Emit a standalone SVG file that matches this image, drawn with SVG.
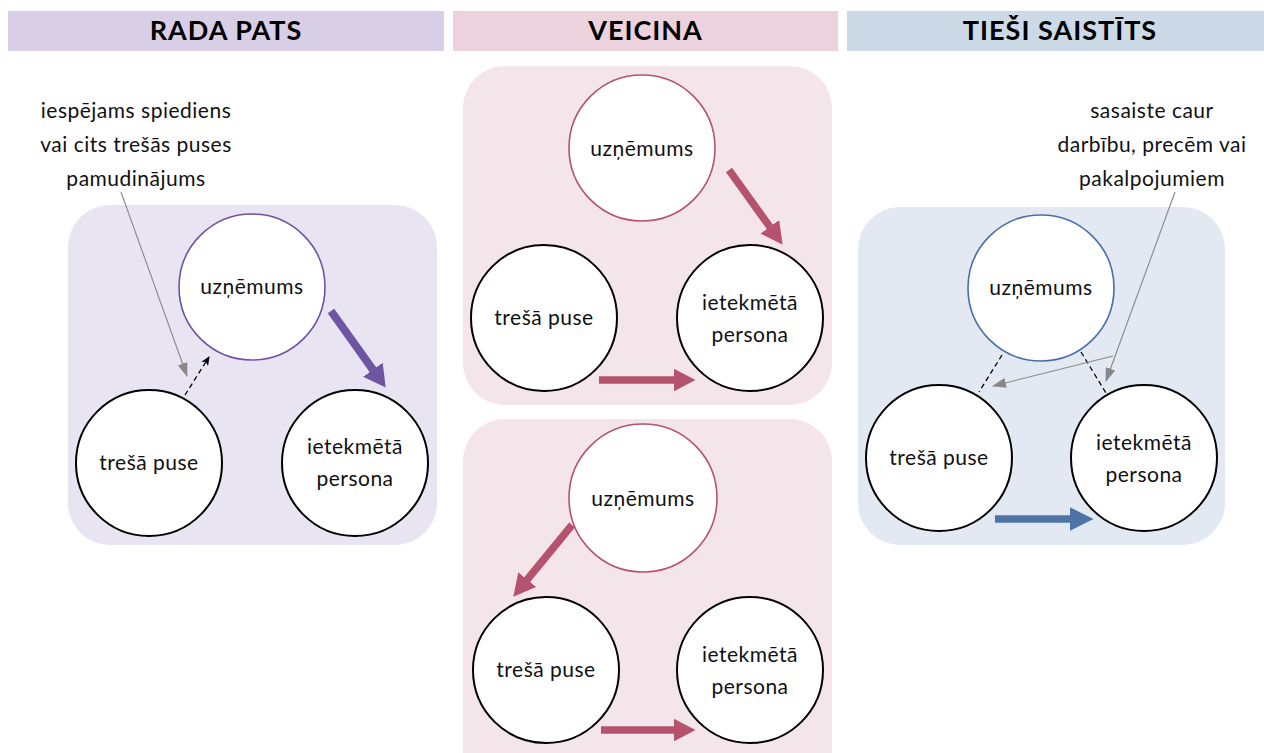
<svg xmlns="http://www.w3.org/2000/svg" width="1264" height="753" viewBox="0 0 1264 753">
  <style>
    .hdr { font-family: Lato, "Liberation Sans", sans-serif; font-weight: bold; font-size: 27px; letter-spacing: 1px; fill: #000; text-anchor: middle; }
    .lbl { font-family: Lato, "Liberation Sans", sans-serif; font-size: 21px; letter-spacing: 0.5px; fill: #111; text-anchor: middle; }
    .node { fill: #fff; stroke: #000; stroke-width: 2; }
    .nodeP { fill: #fff; stroke: #7054a4; stroke-width: 1.6; }
    .nodeR { fill: #fff; stroke: #b5536f; stroke-width: 1.6; }
    .nodeB { fill: #fff; stroke: #4a6fa5; stroke-width: 1.6; }
    .thickP { stroke: #7054a4; stroke-width: 8; fill: none; }
    .thickR { stroke: #b5536f; stroke-width: 7.5; fill: none; }
    .thickB { stroke: #4e73a6; stroke-width: 7.5; fill: none; }
    .dash { stroke: #000; stroke-width: 1.3; stroke-dasharray: 5 3.5; fill: none; }
    .note { stroke: #888; stroke-width: 1.1; fill: none; }
  </style>
  <defs>
    <marker id="headP" viewBox="0 0 22 24" markerUnits="userSpaceOnUse" markerWidth="22" markerHeight="24" refX="0.5" refY="12" orient="auto">
      <path d="M0,0 L22,12 L0,24 Z" fill="#7054a4"/>
    </marker>
    <marker id="headR" viewBox="0 0 22 23" markerUnits="userSpaceOnUse" markerWidth="22" markerHeight="23" refX="0.5" refY="11.5" orient="auto">
      <path d="M0,0 L22,11.5 L0,23 Z" fill="#b5536f"/>
    </marker>
    <marker id="headB" viewBox="0 0 24 24" markerUnits="userSpaceOnUse" markerWidth="24" markerHeight="24" refX="0.5" refY="12" orient="auto">
      <path d="M0,0 L24,12 L0,24 Z" fill="#4e73a6"/>
    </marker>
    <marker id="headK" viewBox="0 0 9 8" markerUnits="userSpaceOnUse" markerWidth="9" markerHeight="8" refX="8" refY="4" orient="auto">
      <path d="M0,0 L9,4 L0,8 L2,4 Z" fill="#000"/>
    </marker>
    <marker id="headG" viewBox="0 0 14 10" markerUnits="userSpaceOnUse" markerWidth="14" markerHeight="10" refX="13" refY="5" orient="auto">
      <path d="M0,0 L14,5 L0,10 Z" fill="#888"/>
    </marker>
  </defs>

  <!-- headers and panels -->
  <g id="col-rada-pats">
    <rect x="8" y="11" width="436" height="40" fill="#d8cee6"/>
    <text class="hdr" x="226" y="40">RADA PATS</text>
    <rect x="68" y="205" width="369" height="340" rx="42" ry="42" fill="#e8e4f1"/>
  </g>
  <g id="col-veicina">
    <rect x="453" y="11" width="385" height="40" fill="#ecd2dc"/>
    <text class="hdr" x="645.5" y="40">VEICINA</text>
    <rect x="463" y="66" width="369" height="339" rx="42" ry="42" fill="#f3e5ea"/>
    <rect x="463" y="419" width="369" height="380" rx="42" ry="42" fill="#f3e5ea"/>
  </g>
  <g id="col-tiesi-saistits">
    <rect x="847" y="11" width="417" height="40" fill="#ccd9e7"/>
    <text class="hdr" x="1060" y="40">TIEŠI SAISTĪTS</text>
    <rect x="858" y="207" width="367" height="338" rx="42" ry="42" fill="#e3e9f3"/>
  </g>

  <!-- annotation texts -->
  <g id="note-rada-pats">
    <text class="lbl" x="136" y="118">iespējams spiediens</text>
    <text class="lbl" x="136" y="152">vai cits trešās puses</text>
    <text class="lbl" x="136" y="186">pamudinājums</text>
  </g>
  <g id="note-tiesi-saistits">
    <text class="lbl" x="1152" y="118">sasaiste caur</text>
    <text class="lbl" x="1152" y="152">darbību, precēm vai</text>
    <text class="lbl" x="1152" y="186">pakalpojumiem</text>
  </g>

  <!-- nodes: RADA PATS -->
  <g id="p1-uznemums">
    <circle class="nodeP" cx="252" cy="287" r="73"/>
    <text class="lbl" x="252" y="294">uzņēmums</text>
  </g>
  <g id="p1-tresa-puse">
    <circle class="node" cx="149" cy="463" r="73"/>
    <text class="lbl" x="149" y="470">trešā puse</text>
  </g>
  <g id="p1-ietekmeta">
    <circle class="node" cx="355" cy="463" r="73"/>
    <text class="lbl" x="355" y="454">ietekmētā</text>
    <text class="lbl" x="355" y="486">persona</text>
  </g>

  <!-- nodes: VEICINA top -->
  <g id="p2a-uznemums">
    <circle class="nodeR" cx="642" cy="148" r="73"/>
    <text class="lbl" x="642" y="156">uzņēmums</text>
  </g>
  <g id="p2a-tresa-puse">
    <circle class="node" cx="544" cy="318" r="73"/>
    <text class="lbl" x="544" y="325">trešā puse</text>
  </g>
  <g id="p2a-ietekmeta">
    <circle class="node" cx="750" cy="318" r="73"/>
    <text class="lbl" x="750" y="310">ietekmētā</text>
    <text class="lbl" x="750" y="342">persona</text>
  </g>

  <!-- nodes: VEICINA bottom -->
  <g id="p2b-uznemums">
    <circle class="nodeR" cx="643" cy="498" r="74"/>
    <text class="lbl" x="643" y="506">uzņēmums</text>
  </g>
  <g id="p2b-tresa-puse">
    <circle class="node" cx="546" cy="670" r="73"/>
    <text class="lbl" x="546" y="677">trešā puse</text>
  </g>
  <g id="p2b-ietekmeta">
    <circle class="node" cx="750" cy="670" r="73"/>
    <text class="lbl" x="750" y="662">ietekmētā</text>
    <text class="lbl" x="750" y="694">persona</text>
  </g>

  <!-- nodes: TIEŠI SAISTĪTS -->
  <g id="p3-uznemums">
    <circle class="nodeB" cx="1041" cy="288" r="73"/>
    <text class="lbl" x="1041" y="295">uzņēmums</text>
  </g>
  <g id="p3-tresa-puse">
    <circle class="node" cx="939" cy="458" r="73"/>
    <text class="lbl" x="939" y="465">trešā puse</text>
  </g>
  <g id="p3-ietekmeta">
    <circle class="node" cx="1144" cy="458" r="73"/>
    <text class="lbl" x="1144" y="450">ietekmētā</text>
    <text class="lbl" x="1144" y="482">persona</text>
  </g>

  <!-- connectors -->
  <g id="connectors">
    <line class="thickP" x1="331" y1="311" x2="373.2" y2="370.1" marker-end="url(#headP)"/>
    <line class="dash" x1="185" y1="395" x2="209" y2="357" marker-end="url(#headK)"/>
    <line class="note" x1="121" y1="192" x2="187" y2="376" marker-end="url(#headG)"/>

    <line class="thickR" x1="729" y1="170" x2="770.1" y2="227.2" marker-end="url(#headR)"/>
    <line class="thickR" x1="599" y1="380" x2="674" y2="380" marker-end="url(#headR)"/>

    <line class="thickR" x1="572" y1="525" x2="526.9" y2="580" marker-end="url(#headR)"/>
    <line class="thickR" x1="601" y1="730" x2="674" y2="730" marker-end="url(#headR)"/>

    <line class="dash" x1="1002" y1="355" x2="979" y2="392"/>
    <line class="dash" x1="1081" y1="352" x2="1106" y2="393"/>
    <line class="note" x1="1175" y1="192" x2="1106" y2="381" marker-end="url(#headG)"/>
    <line class="note" x1="1113" y1="356" x2="993" y2="386" marker-end="url(#headG)"/>
    <line class="thickB" x1="995" y1="519" x2="1070" y2="519" marker-end="url(#headB)"/>
  </g>
</svg>
